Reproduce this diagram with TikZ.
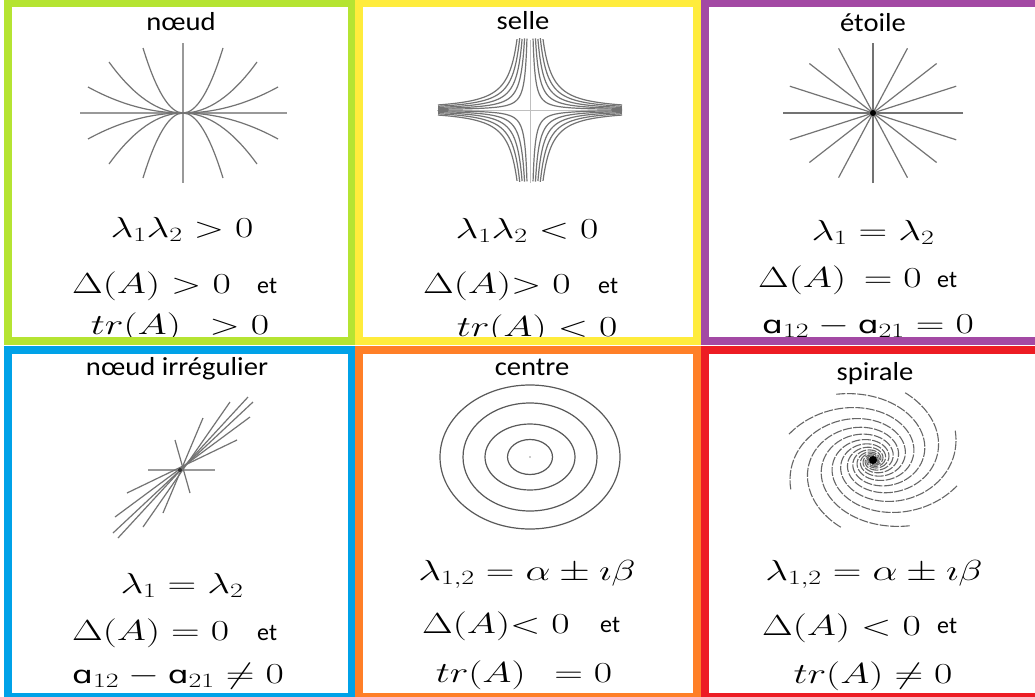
\RequirePackage{fix-cm}
\documentclass[tikz,border=0pt]{standalone}
\usepackage[no-math]{fontspec}
\usepackage{graphicx}
\newfontfamily\carlito{Carlito}
\newfontfamily\dejavu{DejaVu Sans}
\definecolor{cgreen}{RGB}{181,228,50}
\definecolor{cyellow}{RGB}{255,236,60}
\definecolor{cpurple}{RGB}{163,73,164}
\definecolor{cblue}{RGB}{0,162,232}
\definecolor{corange}{RGB}{255,127,39}
\definecolor{cred}{RGB}{237,28,36}
\newcommand{\ttl}[1]{\scalebox{1.1}[1]{\carlito\fontsize{26}{28}\selectfont #1}}
\newcommand{\mth}[1]{\scalebox{1.37}[1]{\fontsize{29}{31}\selectfont$#1$}}
\newcommand{\etw}{\carlito\fontsize{24}{26}\selectfont et}
\newcommand{\sa}{\hbox{\dejavu\fontsize{24}{26}\selectfont ɑ}}
\begin{document}
\begin{tikzpicture}[x=1pt,y=-1pt,
  lb/.style={anchor=base,inner sep=0pt},
  lbw/.style={anchor=base west,inner sep=0pt},
  traj/.style={draw=black!55,line width=1.2pt},
  axisl/.style={draw=black!40,line width=1.2pt},
  spir/.style={draw=black!60,line width=1.1pt,dash pattern=on 9pt off 1.5pt},
  frame/.style={line width=8pt}]
\path[use as bounding box,clip] (0,0) rectangle (1035,696);
\fill[white] (0,0) rectangle (1035,696);

% ---------- noeud
\begin{scope}[shift={(183,113)}]
  \draw[axisl] (-103,0) -- (104,0);
  \draw[axisl] (0,-70) -- (0,70);
  \foreach \X/\Y in {40/65,74/51,95/26}
    \foreach \sx in {1,-1}
      \foreach \sy in {1,-1}
        \draw[traj] (0,0) .. controls ({\sx*\X/3},0) and ({\sx*2*\X/3},{\sy*\Y/3}) .. ({\sx*\X},{\sy*\Y});
\end{scope}

% ---------- selle
\begin{scope}[shift={(530,110)}]
  \draw[draw=black!25,line width=1pt] (-93,0) -- (92,0);
  \draw[draw=black!25,line width=1pt] (0,-70) -- (0,73);
  \foreach \k in {0.01,0.022,0.036,0.052,0.07}{
    \pgfmathsetmacro{\tmin}{0.7407*ln(\k)}
    \foreach \sx in {1,-1}
      \foreach \sy in {1,-1}
        \draw[traj] plot[domain=\tmin:0,samples=40,smooth] ({\sx*92*exp(\x)},{\sy*72*\k*exp(-1.35*\x)});
  }
\end{scope}

% ---------- etoile
\begin{scope}[shift={(873,113)}]
  \foreach \a in {0,22.5,...,157.5}
    \draw[traj] ({90*cos(\a)},{70*sin(\a)}) -- ({-90*cos(\a)},{-70*sin(\a)});
  \fill[black] (0,0) circle (3);
\end{scope}

% ---------- noeud irregulier
\begin{scope}[shift={(180,470)}]
  \draw[axisl] (-32,0) -- (35,0);
  \draw[traj] (-5,-30) -- (10,23);
  \foreach \ax/\ay/\bx/\by in {23/-52/-17/43,50/-68/-37/57,68/-73/-62/68,73/-68/-67/63,70/-53/-65/47,57/-30/-53/23}
    \draw[traj] (\bx,\by) -- (\ax,\ay);
  \fill[black!80] (0,0) circle (2);
\end{scope}

% ---------- centre
\begin{scope}[shift={(530,457)}]
  \foreach \rx/\ry in {90/72,67/54,45/33,22.5/17.5}
    \draw[traj,draw=black!65] (0,0) ellipse [x radius=\rx,y radius=\ry];
  \fill[black!40] (0,0) circle (0.8);
\end{scope}

% ---------- spirale
\begin{scope}[shift={(873,460)}]
  \foreach \j in {0,...,7}
    \draw[spir] plot[domain=0:11,samples=160,smooth] ({90*exp(-0.3*\x)*cos(21+45*\j+deg(\x))},{72*exp(-0.3*\x)*sin(21+45*\j+deg(\x))});
  \fill[black] (0,0) circle (4);
\end{scope}

% ---------- texts
\node[lb] (t1) at (181,30) {\ttl{nœud}};
\node[lb] (a1) at (182,237) {\mth{\lambda_1\lambda_2>0}};
\node[lbw] (b1) at (72,293) {\mth{\Delta(A)>0}};
\node[lbw] (e1) at (257,293) {\etw};
\node[lb] (c1) at (180,334) {\mth{tr(A)\;\,>0}};

\node[lb] (t2) at (523,29) {\ttl{selle}};
\node[lb] (a2) at (527,238) {\mth{\lambda_1\lambda_2<0}};
\node[lbw] (b2) at (423,293) {\mth{\Delta(A){>}\;0}};
\node[lbw] (e2) at (598,293) {\etw};
\node[lb] (c2) at (537,336) {\mth{tr(A)<0}};

\node[lb] (t3) at (873,31) {\ttl{étoile}};
\node[lb] (a3) at (873,240) {\mth{\lambda_1=\lambda_2}};
\node[lbw] (b3) at (758,287) {\mth{\Delta(A)\,=0}};
\node[lbw] (e3) at (937,287) {\etw};
\node[lb] (c3) at (868,333) {\mth{\sa_{12}-\sa_{21}=0}};

\node[lb] (t4) at (177,375) {\ttl{nœud irrégulier}};
\node[lb] (a4) at (182,593) {\mth{\lambda_1=\lambda_2}};
\node[lbw] (b4) at (72,640) {\mth{\Delta(A)=0}};
\node[lbw] (e4) at (257,640) {\etw};
\node[lb] (c4) at (178,683) {\mth{\sa_{12}-\sa_{21}\neq0}};

\node[lb] (t5) at (532,375) {\ttl{centre}};
\node[lb] (a5) at (527,580) {\mth{\lambda_{1,2}=\alpha\pm\imath\beta}};
\node[lbw] (b5) at (422,633) {\mth{\Delta(A){<}\;0}};
\node[lbw] (e5) at (600,632) {\etw};
\node[lb] (c5) at (524,682) {\mth{tr(A)\;\,=0}};

\node[lb] (t6) at (875,380) {\ttl{spirale}};
\node[lb] (a6) at (874,580) {\mth{\lambda_{1,2}=\alpha\pm\imath\beta}};
\node[lbw] (b6) at (762,635) {\mth{\Delta(A)<0}};
\node[lbw] (e6) at (937,633) {\etw};
\node[lb] (c6) at (873,683) {\mth{tr(A)\neq0}};

% ---------- frames
\draw[frame,cgreen] (8,3) rectangle (352,341);
\draw[frame,cyellow] (359,3) rectangle (697,341);
\draw[frame,cpurple] (705,3) rectangle (1045,341);
\draw[frame,cblue] (8,350) rectangle (352,697);
\draw[frame,corange] (359,350) rectangle (697,697);
\draw[frame,cred] (705,350) rectangle (1045,697);
\end{tikzpicture}
\end{document}
